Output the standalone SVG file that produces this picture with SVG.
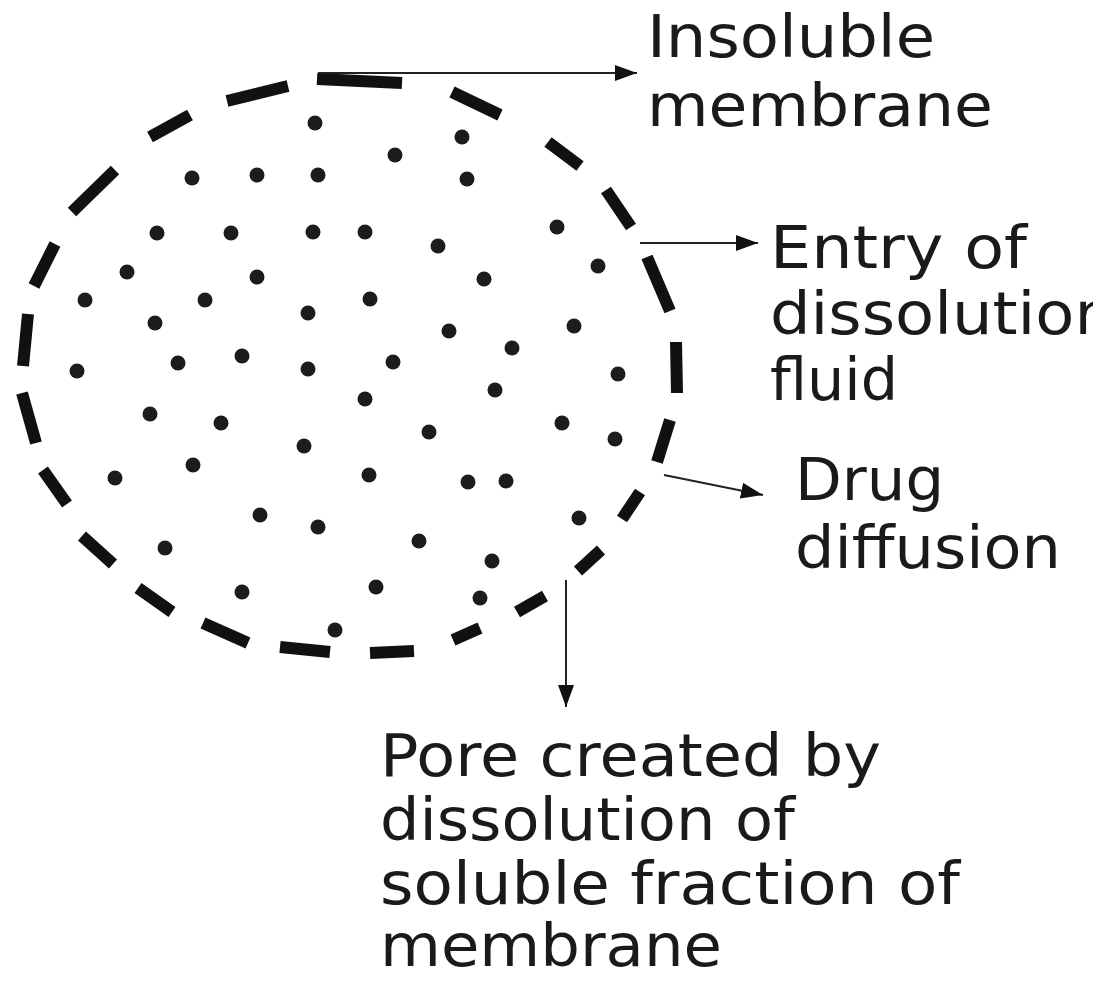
<svg xmlns="http://www.w3.org/2000/svg" width="1093" height="981" viewBox="0 0 1093 981">
<defs>
<style>
.dash{stroke:#111;stroke-width:12;fill:none;stroke-linecap:butt}
.dot{fill:#1c1c1c}
.conn{stroke:#222;stroke-width:2;fill:none}
.lbl{font-family:"DejaVu Sans","Verdana","Liberation Sans",sans-serif;font-size:58px;fill:#1a1a1a}
</style>
<marker id="ah" markerUnits="userSpaceOnUse" markerWidth="24" markerHeight="18" refX="22" refY="8" orient="auto">
<path d="M0,0 L22,8 L0,16 Z" fill="#111"/>
</marker>
</defs>
<rect width="1093" height="981" fill="#fff"/>
<g id="membrane">
<path class="dash" d="M317,79 L402,83 M452,92 L500,115 M548,142 L580,166 M606,190 L631,227 M647,257 L670,311 M676,342 L677,393 M670,420 L657,462 M640,492 L622,519 M601,550 L578,571 M545,596 L517,612 M480,628 L453,640 M414,651 L370,653 M330,652 L280,647 M248,643 L203,623 M172,612 L138,588 M113,564 L82,536 M67,504 L43,470 M36,443 L22,393 M23,366 L28,314 M55,244 L34,286 M115,170 L72,212 M190,115 L150,137 M288,86 L227,101"/>
</g>
<g id="particles">
<circle class="dot" cx="315" cy="123" r="7.5"/>
<circle class="dot" cx="462" cy="137" r="7.5"/>
<circle class="dot" cx="395" cy="155" r="7.5"/>
<circle class="dot" cx="192" cy="178" r="7.5"/>
<circle class="dot" cx="257" cy="175" r="7.5"/>
<circle class="dot" cx="318" cy="175" r="7.5"/>
<circle class="dot" cx="467" cy="179" r="7.5"/>
<circle class="dot" cx="157" cy="233" r="7.5"/>
<circle class="dot" cx="231" cy="233" r="7.5"/>
<circle class="dot" cx="313" cy="232" r="7.5"/>
<circle class="dot" cx="365" cy="232" r="7.5"/>
<circle class="dot" cx="438" cy="246" r="7.5"/>
<circle class="dot" cx="557" cy="227" r="7.5"/>
<circle class="dot" cx="127" cy="272" r="7.5"/>
<circle class="dot" cx="257" cy="277" r="7.5"/>
<circle class="dot" cx="484" cy="279" r="7.5"/>
<circle class="dot" cx="598" cy="266" r="7.5"/>
<circle class="dot" cx="85" cy="300" r="7.5"/>
<circle class="dot" cx="205" cy="300" r="7.5"/>
<circle class="dot" cx="308" cy="313" r="7.5"/>
<circle class="dot" cx="370" cy="299" r="7.5"/>
<circle class="dot" cx="449" cy="331" r="7.5"/>
<circle class="dot" cx="574" cy="326" r="7.5"/>
<circle class="dot" cx="155" cy="323" r="7.5"/>
<circle class="dot" cx="512" cy="348" r="7.5"/>
<circle class="dot" cx="178" cy="363" r="7.5"/>
<circle class="dot" cx="242" cy="356" r="7.5"/>
<circle class="dot" cx="308" cy="369" r="7.5"/>
<circle class="dot" cx="393" cy="362" r="7.5"/>
<circle class="dot" cx="77" cy="371" r="7.5"/>
<circle class="dot" cx="618" cy="374" r="7.5"/>
<circle class="dot" cx="365" cy="399" r="7.5"/>
<circle class="dot" cx="495" cy="390" r="7.5"/>
<circle class="dot" cx="150" cy="414" r="7.5"/>
<circle class="dot" cx="221" cy="423" r="7.5"/>
<circle class="dot" cx="429" cy="432" r="7.5"/>
<circle class="dot" cx="562" cy="423" r="7.5"/>
<circle class="dot" cx="615" cy="439" r="7.5"/>
<circle class="dot" cx="304" cy="446" r="7.5"/>
<circle class="dot" cx="115" cy="478" r="7.5"/>
<circle class="dot" cx="193" cy="465" r="7.5"/>
<circle class="dot" cx="369" cy="475" r="7.5"/>
<circle class="dot" cx="468" cy="482" r="7.5"/>
<circle class="dot" cx="506" cy="481" r="7.5"/>
<circle class="dot" cx="260" cy="515" r="7.5"/>
<circle class="dot" cx="318" cy="527" r="7.5"/>
<circle class="dot" cx="419" cy="541" r="7.5"/>
<circle class="dot" cx="579" cy="518" r="7.5"/>
<circle class="dot" cx="165" cy="548" r="7.5"/>
<circle class="dot" cx="492" cy="561" r="7.5"/>
<circle class="dot" cx="242" cy="592" r="7.5"/>
<circle class="dot" cx="376" cy="587" r="7.5"/>
<circle class="dot" cx="480" cy="598" r="7.5"/>
<circle class="dot" cx="335" cy="630" r="7.5"/>
</g>
<g id="connectors">
<line class="conn" x1="318" y1="73" x2="637" y2="73" marker-end="url(#ah)"/>
<line class="conn" x1="640" y1="243" x2="758" y2="243" marker-end="url(#ah)"/>
<line class="conn" x1="664" y1="475" x2="763" y2="495" marker-end="url(#ah)"/>
<line class="conn" x1="566" y1="580" x2="566" y2="707" marker-end="url(#ah)"/>
</g>
<g id="label-insoluble">
<text class="lbl" x="647" y="57" textLength="288" lengthAdjust="spacingAndGlyphs">Insoluble</text>
<text class="lbl" x="647" y="126" textLength="346" lengthAdjust="spacingAndGlyphs">membrane</text>
</g>
<g id="label-entry">
<text class="lbl" x="770" y="268" textLength="257" lengthAdjust="spacingAndGlyphs">Entry of</text>
<text class="lbl" x="770" y="334" textLength="345" lengthAdjust="spacingAndGlyphs">dissolution</text>
<text class="lbl" x="770" y="400" textLength="128" lengthAdjust="spacingAndGlyphs">fluid</text>
</g>
<g id="label-drug">
<text class="lbl" x="795" y="500" textLength="149" lengthAdjust="spacingAndGlyphs">Drug</text>
<text class="lbl" x="795" y="568" textLength="266" lengthAdjust="spacingAndGlyphs">diffusion</text>
</g>
<g id="label-pore">
<text class="lbl" x="380" y="776" textLength="501" lengthAdjust="spacingAndGlyphs">Pore created by</text>
<text class="lbl" x="380" y="840" textLength="415" lengthAdjust="spacingAndGlyphs">dissolution of</text>
<text class="lbl" x="380" y="904" textLength="580" lengthAdjust="spacingAndGlyphs">soluble fraction of</text>
<text class="lbl" x="380" y="966" textLength="342" lengthAdjust="spacingAndGlyphs">membrane</text>
</g>
</svg>
